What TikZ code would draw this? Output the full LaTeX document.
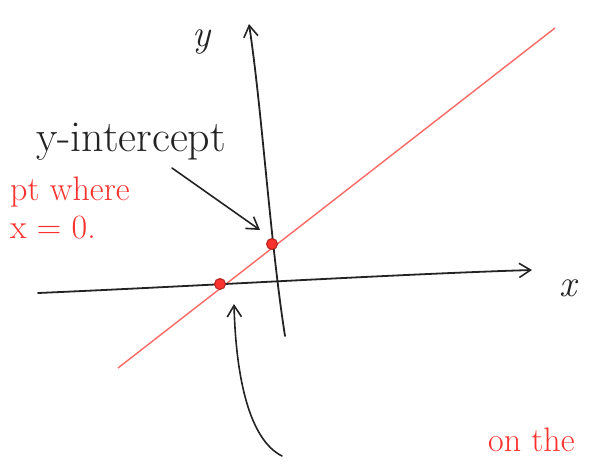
\documentclass[tikz,border=0pt]{standalone}
\usepackage{tikz}
\usetikzlibrary{arrows.meta,calc}
\definecolor{pen}{RGB}{35,35,35}
\definecolor{marker}{RGB}{250,50,45}
\definecolor{redline}{RGB}{250,105,100}
\tikzset{
  >={Straight Barb[length=4mm,width=5mm,line width=1.6pt]},
  axis/.style={->,line width=1.8pt,draw=pen,line cap=round},
  note/.style={->,line width=1.6pt,draw=pen,line cap=round},
  hand/.style={font=\fontsize{44}{48}\selectfont,text=pen,inner sep=0pt},
  redtag/.style={font=\fontsize{34}{38}\selectfont,text=marker,align=left,inner sep=0pt},
  dot/.style={circle,fill=marker,draw=marker!70!black,line width=1pt,inner sep=0pt,minimum size=11pt},
}

\begin{document}
\begin{tikzpicture}[x=1pt,y=-1pt]
  \useasboundingbox[fill=white] (0,0) rectangle (596,466);
  % axes and the line
  \coordinate (xs) at (38,293);
  \coordinate (xe) at (532,270);
  \coordinate (ys) at (285,336);
  \coordinate (ye) at (249,24);
  \coordinate (ls) at (118,368);
  \coordinate (le) at (555,28);
  \draw[redline,line width=1.4pt] (ls) -- (le);
  \draw[axis] (xs) .. controls (200,286) and (400,274) .. (xe);
  \draw[axis] (ys) .. controls (270,240) and (262,110) .. (ye);
  \node[hand,font=\fontsize{38}{40}\selectfont\itshape] (xlab) at (568,288) {x};
  \node[hand,font=\fontsize{38}{40}\selectfont\itshape] (ylab) at (202,42) {y};
  % intercepts
  \node[dot] (xint) at (220,284) {};
  \node[dot] (yint) at (272,244) {};
  % labels
  \node[hand,anchor=west] (ytag) at (36,142) {y-intercept};
  \node[redtag,anchor=west] (ywhere) at (10,208) {pt where\\x = 0.};
  \node[redtag,anchor=west] (xtag) at (488,440) {on the};
  \coordinate (ynote) at (172,168);
  \coordinate (xnote) at (282,456);
  \draw[note] (ynote) -- ($(yint)+(-12,-14)$);
  \draw[note] (xnote) .. controls (250,440) and (236,380) .. ($(xint)+(14,20)$);
\end{tikzpicture}
\end{document}
